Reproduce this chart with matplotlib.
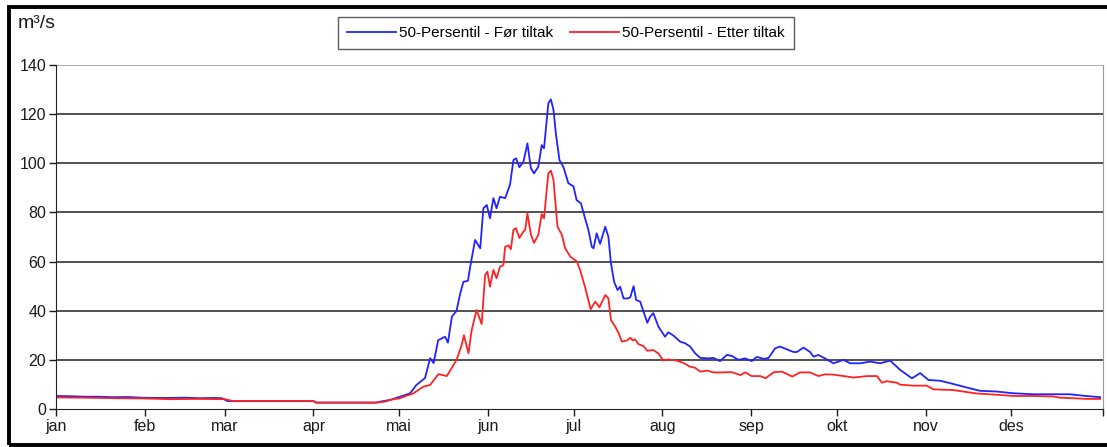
import matplotlib.pyplot as plt
from matplotlib.patches import Rectangle

# Dager i året (0 = 1. jan) og avlest vannføring (m³/s)
dag_for = [0, 5, 10, 15, 20, 25, 30, 35, 40, 45, 50, 55, 58, 60, 90, 91, 112,
           113.3, 116.8, 120.3, 123.8, 126, 129, 130.8, 132, 133.6, 136, 137, 138.4, 140,
           141.3, 142.4, 144, 144.8, 146.5, 148.3, 149.4, 150.6, 151.7, 152.9, 154, 155.2,
           157, 158.7, 159.9, 160.8, 162, 163.4, 164.8, 166, 167.1, 168.6, 169.8, 170.6,
           172.1, 173, 173.9, 174.8, 176, 177.4, 179.1, 180.9, 182, 183.5, 184.6, 186.1,
           187.3, 187.9, 189, 190.2, 192, 193.1, 194, 195.1, 196.3, 197.2, 198.4, 200,
           200.8, 201.9, 202.8, 204.2, 205.4, 206.7, 207.7, 208.8, 210.6, 212.9, 214,
           215.7, 218.2, 220, 221.7, 223.4, 225.2, 228, 229.8, 232.1, 234.5, 236.2,
           238.6, 240.9, 243.2, 245, 247.4, 249.1, 251.4, 253.1, 255.5, 257.8, 259,
           261.3, 263.6, 264.8, 266.5, 268.8, 271.8, 275.3, 277.6, 281.1, 284.6, 288.1,
           291.6, 295.1, 299.2, 302.1, 305, 309.1, 312.6, 317.2, 323, 328.9, 334.7,
           341.7, 347.5, 354.5, 359.1, 365]
verdi_for = [5.3, 5.2, 5.0, 5.0, 4.8, 4.9, 4.6, 4.5, 4.5, 4.6, 4.4, 4.5, 4.4, 3.2, 3.2, 2.6, 2.6,
             3.0, 3.7, 5.0, 6.4, 9.8, 12.6, 20.7, 18.7, 28, 29.4, 27, 37.6, 39.9,
             47, 51.7, 52.2, 57.9, 68.8, 65.4, 81.7, 83, 77.6, 85.8, 81.7, 86.4,
             85.8, 91.2, 101.3, 102, 98.4, 100.6, 108.1, 98, 95.9, 98.6, 107.4, 106.1,
             124.4, 126, 121.7, 111.5, 101.3, 98.4, 91.9, 90.6, 85, 83.7, 79, 72.9,
             66, 65.4, 71.5, 67.2, 74.2, 70.1, 59.3, 51.8, 48.4, 49.8, 45, 45,
             45.6, 50, 44.4, 43.7, 39.6, 35.1, 37.6, 39, 33.5, 29.4, 31.2,
             30, 27.4, 26.7, 25.4, 22.7, 20.8, 20.6, 20.8, 19.5, 22, 21.6,
             20, 20.6, 19.5, 21.2, 20.4, 20.8, 24.7, 25.4, 24.3, 23.2, 23.2,
             25, 23.2, 21.3, 22, 20.6, 18.6, 20, 18.6, 18.6, 19.3, 18.6,
             19.7, 15.9, 12.5, 14.6, 11.8, 11.5, 10.5, 9.1, 7.4, 7.1, 6.4,
             6.0, 6.0, 6.0, 5.4, 4.8]

dag_etter = [0, 10, 20, 30, 40, 50, 59, 62, 90, 91, 112, 115, 118,
             120, 125, 128.4, 130.8, 133.7, 136.6, 140, 141.8, 142.6, 144.2, 145.3, 147,
             148.8, 150, 150.8, 151.7, 152.9, 154, 155.2, 156.4, 157, 158.2, 159, 159.9,
             160.8, 162, 163.4, 164, 164.8, 166, 167.1, 168.6, 169.8, 170.6, 172.1, 173,
             173.9, 175.3, 176.8, 178, 179.8, 182.1, 183.2, 184.9, 186.9, 188.5, 190,
             192, 193.1, 194, 195.5, 196.7, 197.8, 199.6, 200.8, 201.6, 202.4, 203.6,
             205.4, 206.7, 208.8, 210.6, 212.3, 214, 217, 219.4, 221.7, 223.4, 225.2,
             227.6, 229.8, 232.8, 236.2, 239.2, 240.9, 243.2, 246.2, 248, 251, 253.8,
             257.4, 260.1, 263.6, 266.5, 268.8, 271.8, 275.3, 278.8, 283.5, 287, 288.7,
             290.4, 293.9, 295.1, 299.7, 304.4, 306.7, 313.7, 317.2, 321.9, 327.7,
             334.7, 341.7, 348.7, 351.1, 357, 360.5, 365]
verdi_etter = [4.7, 4.6, 4.4, 4.3, 4.0, 4.1, 4.0, 3.2, 3.2, 2.6, 2.6, 3.0, 4.0,
               4.3, 6.4, 9.1, 9.8, 14.2, 13.4, 19.9, 26, 30, 22.7, 32, 40.3,
               34.6, 54.5, 55.9, 49.8, 56.6, 53.2, 57.9, 58.6, 66, 66.6, 65, 72.9,
               73.6, 69.6, 72.2, 72.9, 79.6, 71, 67.6, 70.9, 79.3, 77.6, 95.9, 97,
               93.3, 74.2, 71, 65.4, 62, 60, 56.6, 49.8, 40.6, 43.7, 41.4,
               46.4, 45, 36.2, 33.5, 30.8, 27.4, 27.9, 29, 27.9, 28.4, 26.4,
               25.6, 23.7, 24, 22.6, 19.7, 20.2, 19.7, 18.7, 17.2, 16.8, 15.2,
               15.6, 14.9, 14.9, 15.0, 13.8, 14.9, 13.4, 13.4, 12.5, 15.0, 15.2,
               13.2, 14.9, 14.9, 13.4, 14.1, 14.0, 13.4, 12.8, 13.4, 13.4, 10.7,
               11.3, 10.7, 9.9, 9.5, 9.5, 8.0, 7.7, 7.1, 6.3, 5.9,
               5.3, 5.3, 5.1, 4.6, 4.3, 4.1, 4.1]

maaned_start = [0, 31, 59, 90, 120, 151, 181, 212, 243, 273, 304, 334]
maaneder = ['jan', 'feb', 'mar', 'apr', 'mai', 'jun', 'jul', 'aug', 'sep', 'okt', 'nov', 'des']

plt.rcParams['font.family'] = ['Liberation Sans', 'DejaVu Sans']

fig = plt.figure(figsize=(11.07, 4.47), dpi=100)
ax = fig.add_axes([56 / 1107, 1 - 409 / 447, 1047 / 1107, 344 / 447])

ax.plot(dag_for, verdi_for, color='#2222ff', lw=1.3, label='50-Persentil - Før tiltak')
ax.plot(dag_etter, verdi_etter, color='#ff2222', lw=1.3, label='50-Persentil - Etter tiltak')

ax.set_xlim(0, 366)
ax.set_ylim(0, 140)
ax.set_yticks(range(0, 141, 20))
ax.set_xticks(maaned_start + [366])
ax.set_xticklabels(maaneder + [''])
ax.tick_params(axis='both', direction='out', length=5, width=1, labelsize=11.5,
               colors='#1a1a1a', pad=2)

# gitterlinjer
for v in range(20, 141, 20):
    ax.axhline(v, color='#999999' if v == 140 else '#222222', lw=1.1, zorder=0)

ax.spines['top'].set_visible(False)
ax.spines['right'].set_color('#999999')
ax.spines['left'].set_color('#222222')
ax.spines['bottom'].set_color('#222222')

fig.text(18 / 1107, 1 - 23 / 447, 'm³/s', fontsize=14, va='center', ha='left', color='#1a1a1a')

leg = fig.legend(loc='center', bbox_to_anchor=(566 / 1107, 1 - 33 / 447), ncol=2,
                 fontsize=11, frameon=True, fancybox=False, edgecolor='#333333',
                 handlelength=3.2, handletextpad=0.2, columnspacing=1.1,
                 borderpad=0.6, borderaxespad=0)
leg.get_frame().set_linewidth(1.0)

# svart ramme rundt hele figuren
fig.patches.append(Rectangle((9 / 1107, 2 / 447), 1.1, 1 - 9 / 447, transform=fig.transFigure,
                             fill=False, edgecolor='black', lw=2.8))

fig.savefig('out.png', dpi=100)
